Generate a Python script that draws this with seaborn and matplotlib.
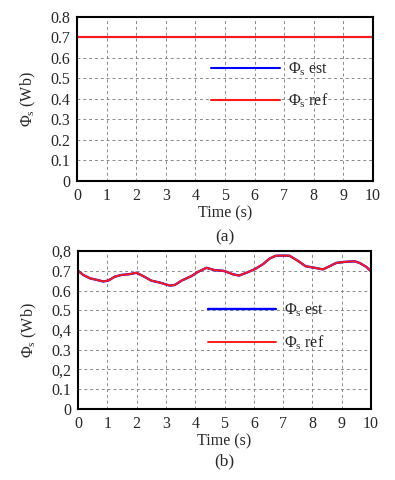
import numpy as np
import matplotlib
matplotlib.use("Agg")
import matplotlib.pyplot as plt
import seaborn as sns

# panel (a): constant flux reference
time_a = [0, 10]
phi_a = [0.70, 0.70]

# panel (b): time-varying flux reference
time_b = [0.0, 0.17, 0.4, 0.63, 0.85, 1.02, 1.25, 1.48, 1.76, 1.99, 2.22,
          2.5, 2.79, 3.13, 3.3, 3.53, 3.87, 4.1, 4.38, 4.67, 4.95, 5.06,
          5.29, 5.5, 5.75, 6.03, 6.31, 6.54, 6.75, 7.0, 7.22, 7.51, 7.77,
          8.08, 8.36, 8.59, 8.82, 9.1, 9.44, 9.61, 9.84, 10.0]
phi_b = [0.700, 0.679, 0.662, 0.654, 0.646, 0.650, 0.670, 0.679, 0.683, 0.690, 0.673,
         0.650, 0.640, 0.625, 0.628, 0.650, 0.673, 0.695, 0.715, 0.703, 0.700, 0.695,
         0.682, 0.676, 0.690, 0.708, 0.733, 0.762, 0.776, 0.777, 0.776, 0.750, 0.723,
         0.715, 0.707, 0.723, 0.740, 0.745, 0.748, 0.740, 0.720, 0.698]

xticks = list(range(0, 11))
yticks = [0, 0.1, 0.2, 0.3, 0.4, 0.5, 0.6, 0.7, 0.8]
ylabels_a = ["0", "0.1", "0.2", "0.3", "0.4", "0.5", "0.6", "0.7", "0.8"]
ylabels_b = ["0", "0.1", "0,2", "0.3", "0,4", "0.5", "0.6", "0.7", "0,8"]

sns.set_style("white")
plt.rcParams['font.family'] = ['Liberation Serif', 'DejaVu Serif']
plt.rcParams['mathtext.fontset'] = 'custom'
plt.rcParams['mathtext.rm'] = 'Liberation Serif'
plt.rcParams['mathtext.default'] = 'regular'

fig = plt.figure(figsize=(3.95, 4.8), dpi=100)
ax_a = fig.add_axes([0.195, 0.623, 0.749, 0.342])
ax_b = fig.add_axes([0.198, 0.148, 0.741, 0.329])


def style_axis(ax, ylabels, caption, cap_y):
    ax.set_xlim(0, 10)
    ax.set_ylim(0, 0.8)
    ax.set_xticks(xticks)
    ax.set_xticklabels([str(t) for t in xticks], fontsize=11.5)
    ax.set_yticks(yticks)
    ax.set_yticklabels(ylabels, fontsize=11.5)
    ax.grid(True, color='#888888', linestyle=(0, (3, 3)), linewidth=0.7)
    for sp in ax.spines.values():
        sp.set_color('black')
        sp.set_linewidth(1.5)
    ax.tick_params(direction='in', length=3, width=0.8, pad=5)
    ax.set_xlabel("Time (s)", fontsize=11.5, labelpad=1)
    ax.set_ylabel(r"$\Phi_s$ (Wb)", fontsize=11.5, labelpad=9)
    ax.text(0.5, cap_y, caption, transform=ax.transAxes, ha='center',
            va='center', fontsize=12.5)


sns.lineplot(x=time_a, y=phi_a, ax=ax_a, color='blue', linewidth=1.5,
             label=r"$\Phi_s$ est")
sns.lineplot(x=time_a, y=phi_a, ax=ax_a, color='#ff1a1a', linewidth=1.5,
             label=r"$\Phi_s$ ref")
style_axis(ax_a, ylabels_a, "(a)", -0.345)
ax_a.legend(frameon=False, loc='upper left', bbox_to_anchor=(0.453, 0.735),
            borderaxespad=0, borderpad=0, handlelength=4.3,
            labelspacing=0.9, handletextpad=0.5, fontsize=11.5)

sns.lineplot(x=time_b, y=phi_b, ax=ax_b, color='blue', linewidth=1.7,
             label=r"$\Phi_s$ est")
sns.lineplot(x=time_b, y=phi_b, ax=ax_b, color='#ff1a1a', linewidth=1.4,
             label=r"$\Phi_s$ ref")
style_axis(ax_b, ylabels_b, "(b)", -0.33)
ax_b.legend(frameon=False, loc='upper left', bbox_to_anchor=(0.442, 0.68),
            borderaxespad=0, borderpad=0, handlelength=4.3,
            labelspacing=0.9, handletextpad=0.5, fontsize=11.5)

fig.savefig("out.png", dpi=100)
